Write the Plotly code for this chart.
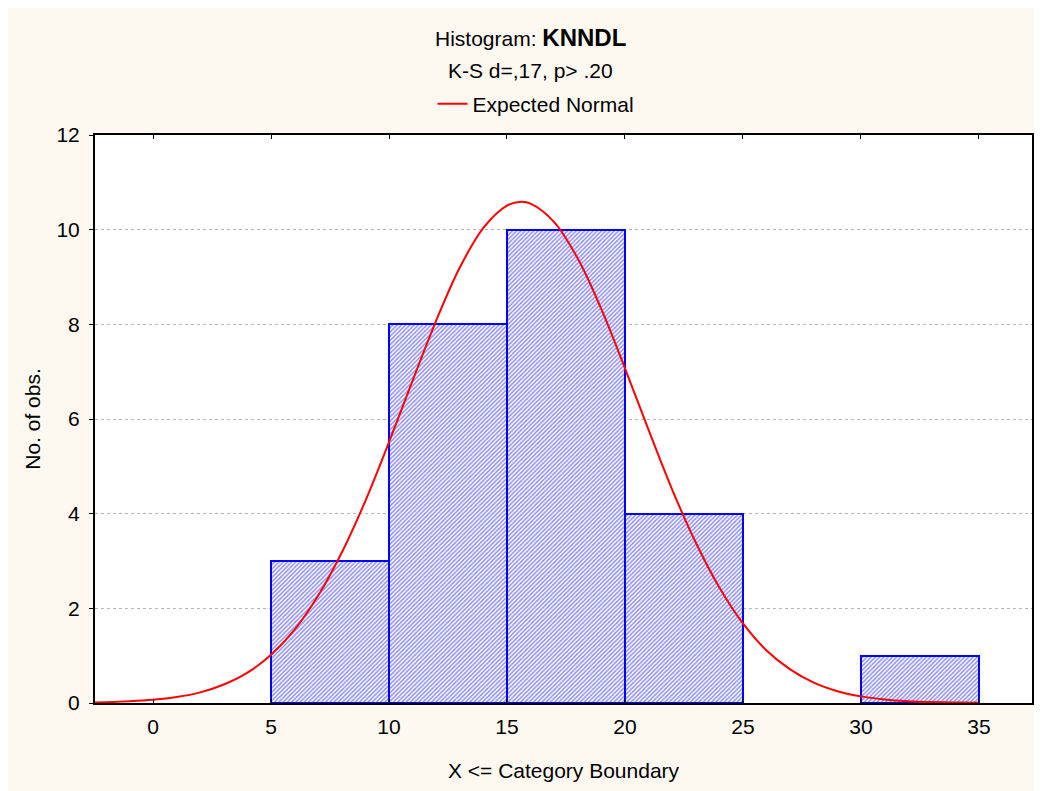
import plotly.graph_objects as go

# Histogram data
bin_lower = [5, 10, 15, 20, 30]
bin_upper = [10, 15, 20, 25, 35]
counts = [3, 8, 10, 4, 1]

# Expected normal curve
curve_x = [-2.5, -2, -1, 0, 1, 2, 3, 4, 5, 6, 7, 8, 9, 10, 11, 12, 13, 14, 15, 15.6,
           16, 17, 18, 19, 20, 21, 22, 23, 24, 25, 26, 27, 28, 29, 30, 31, 32, 33, 34, 35]
curve_y = [0.012, 0.017, 0.035, 0.067, 0.125, 0.225, 0.39, 0.64, 1.02, 1.55, 2.27, 3.18,
           4.27, 5.51, 6.81, 8.08, 9.20, 10.04, 10.51, 10.59, 10.55, 10.16, 9.39, 8.32,
           7.07, 5.77, 4.51, 3.39, 2.44, 1.68, 1.11, 0.71, 0.43, 0.25, 0.14, 0.076,
           0.039, 0.019, 0.009, 0.004]

x_ticks = [0, 5, 10, 15, 20, 25, 30, 35]
y_ticks = [0, 2, 4, 6, 8, 10, 12]

title_main = "Histogram: <b><span style='font-size:24px'>KNNDL</span></b>"
subtitle = "K-S d=,17, p> .20"
legend_name = "Expected Normal"
x_title = "X <= Category Boundary"
y_title = "No. of obs."

FONT = "Liberation Sans, Arial, sans-serif"
BG = "#FEF9F0"

centers = [(a + b) / 2 for a, b in zip(bin_lower, bin_upper)]
widths = [b - a for a, b in zip(bin_lower, bin_upper)]

fig = go.Figure()
fig.add_trace(go.Bar(
    x=centers, y=counts, width=widths,
    marker=dict(color="white", line=dict(color="#0000FF", width=2),
                pattern=dict(shape="/", fgcolor="#1a1aff", bgcolor="white",
                             size=3, solidity=0.5)),
    showlegend=False, hoverinfo="skip",
))
fig.add_trace(go.Scatter(
    x=curve_x, y=curve_y, mode="lines", name=legend_name,
    line=dict(color="#FF0000", width=2, shape="spline"),
))

# page body adds an 8px offset; coordinates below are figure coordinates
W, H = 1042, 791
px_left, px_right, px_top, px_bottom = 87, 1024, 127, 695
ml, mr, mt, mb = px_left, W - px_right, px_top, H - px_bottom
pw, ph = px_right - px_left, px_bottom - px_top

def ypaper(y_px):
    return (px_bottom - y_px) / ph

x_center = (530 - 8 - px_left) / pw
legend_center = (536 - 8 - px_left) / pw

fig.update_layout(
    width=W, height=H,
    margin=dict(l=ml, r=mr, t=mt, b=mb),
    paper_bgcolor=BG, plot_bgcolor="white",
    font=dict(family=FONT, size=21, color="black"),
    bargap=0,
    showlegend=True,
    legend=dict(orientation="h", x=legend_center, xanchor="center", y=ypaper(104 - 8),
                yanchor="middle", bgcolor="rgba(0,0,0,0)", font=dict(size=21),
                itemwidth=30),
    annotations=[
        dict(text=title_main, x=x_center, xref="paper", y=ypaper(38 - 8), yref="paper",
             showarrow=False, xanchor="center", yanchor="middle", font=dict(size=21)),
        dict(text=subtitle, x=x_center, xref="paper", y=ypaper(70 - 8), yref="paper",
             showarrow=False, xanchor="center", yanchor="middle", font=dict(size=21)),
    ],
)

fig.update_xaxes(
    range=[-2.46, 37.25], tickvals=x_ticks, ticktext=[str(v) for v in x_ticks],
    ticks="inside", ticklen=4, tickcolor="black", tickwidth=1,
    showline=True, linecolor="black", linewidth=2, mirror="ticks",
    showgrid=False, zeroline=False, ticklabelstandoff=4,
    title=dict(text=x_title, standoff=26, font=dict(size=21)),
)
fig.update_yaxes(
    range=[0, 12], tickvals=y_ticks, ticktext=[str(v) for v in y_ticks],
    ticks="outside", ticklen=4, tickcolor="black", tickwidth=1,
    showline=True, linecolor="black", linewidth=2, mirror=True,
    showgrid=True, gridcolor="#b4b4b4", griddash="dot", gridwidth=1,
    zeroline=False, ticklabelstandoff=5,
    title=dict(text=y_title, standoff=10, font=dict(size=21)),
)

fig.write_html("out.html")
